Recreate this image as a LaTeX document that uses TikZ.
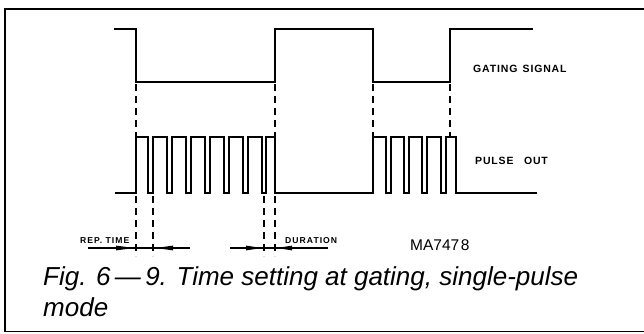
\documentclass[tikz,border=0pt]{standalone}
\usepackage{fontspec}
\setsansfont{Liberation Sans}
\newfontfamily\lblfont[LetterSpace=12]{Liberation Sans Bold}
\newfontfamily\gsfont[LetterSpace=8]{Liberation Sans Bold}
\tikzset{
  sig/.style={line width=1.6pt, line join=miter},
  frame/.style={line width=1.6pt},
  guide/.style={line width=1.1pt, dash pattern=on 7pt off 5pt},
  dim/.style={line width=1.1pt},
  head/.style={fill=black},
  lbl/.style={font=\lblfont\fontsize{8.6}{9}\selectfont, inner sep=0pt},
  big/.style={font=\gsfont\fontsize{10.5}{12}\selectfont, inner sep=0pt},
  captext/.style={font=\sffamily\itshape\fontsize{26}{31}\selectfont, inner sep=0pt, align=left, anchor=base west},
}
\begin{document}
\begin{tikzpicture}[x=1pt,y=-1pt]
\useasboundingbox (0,0) rectangle (644,333);
% frame
\draw[frame] (644,9) -- (5,9) -- (5,331.5) -- (644,331.5);
% gating signal
\draw[sig] (114,29) -- (136,29) -- (136,82) -- (275,82) -- (275,29) -- (373,29) -- (373,82) -- (450,82) -- (450,29) -- (533,29);
% pulse out
\draw[sig] (115,193) -- (136,193) -- (136,137) -- (148,137) -- (148,193) -- (153,193) -- (153,137)
  -- (167,137) -- (167,193) -- (172,193) -- (172,137)
  -- (186,137) -- (186,193) -- (191,193) -- (191,137)
  -- (205,137) -- (205,193) -- (210,193) -- (210,137)
  -- (224,137) -- (224,193) -- (229,193) -- (229,137)
  -- (243,137) -- (243,193) -- (248,193) -- (248,137)
  -- (262,137) -- (262,193) -- (266,193) -- (266,137)
  -- (275,137) -- (275,193) -- (373,193)
  -- (373,137) -- (386,137) -- (386,193) -- (391,193) -- (391,137)
  -- (404,137) -- (404,193) -- (409,193) -- (409,137)
  -- (422,137) -- (422,193) -- (427,193) -- (427,137)
  -- (441,137) -- (441,193) -- (446,193) -- (446,137)
  -- (456,137) -- (456,193) -- (537,193);
% dashed guides
\draw[guide] (136,84) -- (136,137);
\draw[guide] (275,84) -- (275,137);
\draw[guide] (373,84) -- (373,137);
\draw[guide] (450,84) -- (450,137);
\draw[guide] (136,196) -- (136,256);
\draw[guide] (153,196) -- (153,256);
\draw[guide] (264,196) -- (264,256);
\draw[guide] (275,196) -- (275,256);
% rep time dimension
\draw[dim] (88,248) -- (190,248);
\fill[head] (134,248) -- (116,245.6) -- (116,250.4) -- cycle;
\fill[head] (156,248) -- (173,245.6) -- (173,250.4) -- cycle;
% duration dimension
\draw[dim] (230,248) -- (328,248);
\fill[head] (262,248) -- (246,245.6) -- (246,250.4) -- cycle;
\fill[head] (277,248) -- (292,245.6) -- (292,250.4) -- cycle;
% labels
\node[lbl, anchor=base west] (rep) at (80,243.5) {REP. TIME};
\node[lbl, anchor=base west] (dur) at (285,243.5) {DURATION};
\node[big, anchor=base west] (gs) at (473,72) {GATING\enspace SIGNAL};
\node[big, anchor=base west] (po) at (475,164) {PULSE\quad OUT};
\node[inner sep=0pt, font=\sffamily\fontsize{15.5}{16}\selectfont, anchor=base west] (ma) at (410,250) {MA747\kern1.5pt 8};
\node[captext] (caption) at (43,316) {Fig. 6\,—\,9. Time setting at gating, single-pulse\\mode};
\end{tikzpicture}
\end{document}
